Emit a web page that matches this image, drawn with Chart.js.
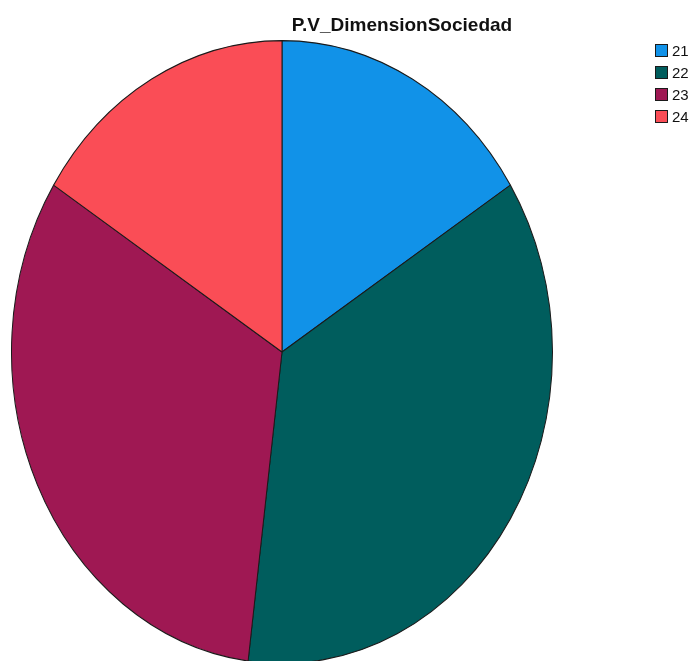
<!DOCTYPE html>
<html>
<head>
<meta charset="utf-8">
<script src="https://cdn.jsdelivr.net/npm/chart.js@4"></script>
<style>
  html, body { margin: 0; padding: 0; background: #ffffff; }
  #wrap { width: 692px; height: 661px; position: relative; }
</style>
</head>
<body>
<div id="wrap"><canvas id="c" width="692" height="661"></canvas></div>
<script>
const chartTitle = "P.V_DimensionSociedad";
const categories = ["21", "22", "23", "24"];
const counts = [4, 9, 8, 4];
const sliceColors = ["#1192e8", "#005d5d", "#9f1853", "#fa4d56"];

// Pie is drawn as an ellipse: stretch vertically around the pie centre
const ellipsePlugin = {
  id: 'ellipse',
  beforeDatasetsDraw(chart, args, opts) {
    const arc = chart.getDatasetMeta(0).data[0];
    if (!arc) return;
    const cx = arc.x, cy = arc.y;
    const ctx = chart.ctx;
    ctx.save();
    ctx.translate(cx, cy);
    ctx.scale(1, opts.stretch);
    ctx.translate(-cx, -cy);
  },
  afterDatasetsDraw(chart) {
    chart.ctx.restore();
  }
};

// Title and legend drawn at fixed places like the reference
const textPlugin = {
  id: 'spssText',
  afterDraw(chart, args, opts) {
    const ctx = chart.ctx;
    ctx.save();
    ctx.fillStyle = '#111111';
    ctx.font = 'bold 19px "Liberation Sans", Arial, sans-serif';
    ctx.textAlign = 'center';
    ctx.textBaseline = 'alphabetic';
    ctx.fillText(chartTitle, opts.titleX, opts.titleY);

    ctx.font = '15px "Liberation Sans", Arial, sans-serif';
    ctx.textAlign = 'left';
    ctx.textBaseline = 'middle';
    const colors = chart.data.datasets[0].backgroundColor;
    chart.data.labels.forEach((lab, i) => {
      const y = opts.legendTop + i * opts.legendStep;
      ctx.fillStyle = colors[i];
      ctx.fillRect(opts.legendX, y, opts.box, opts.box);
      ctx.strokeStyle = '#1a1a1a';
      ctx.lineWidth = 1;
      ctx.strokeRect(opts.legendX + 0.5, y + 0.5, opts.box - 1, opts.box - 1);
      ctx.fillStyle = '#111111';
      ctx.fillText(lab, opts.legendX + opts.box + 4, y + opts.box / 2 + 1);
    });
    ctx.restore();
  }
};

new Chart(document.getElementById('c'), {
  type: 'pie',
  data: {
    labels: categories,
    datasets: [{
      data: counts,
      backgroundColor: sliceColors,
      borderColor: '#1a1a1a',
      borderWidth: 1
    }]
  },
  options: {
    responsive: false,
    animation: false,
    events: [],
    rotation: 0,
    layout: { padding: { left: 11, right: 139, top: 81, bottom: 38 } },
    plugins: {
      legend: { display: false },
      title: { display: false },
      tooltip: { enabled: false },
      ellipse: { stretch: 312 / 271 },
      spssText: { titleX: 402, titleY: 31, legendX: 655, legendTop: 44, legendStep: 22, box: 13 }
    }
  },
  plugins: [ellipsePlugin, textPlugin]
});
</script>
</body>
</html>
